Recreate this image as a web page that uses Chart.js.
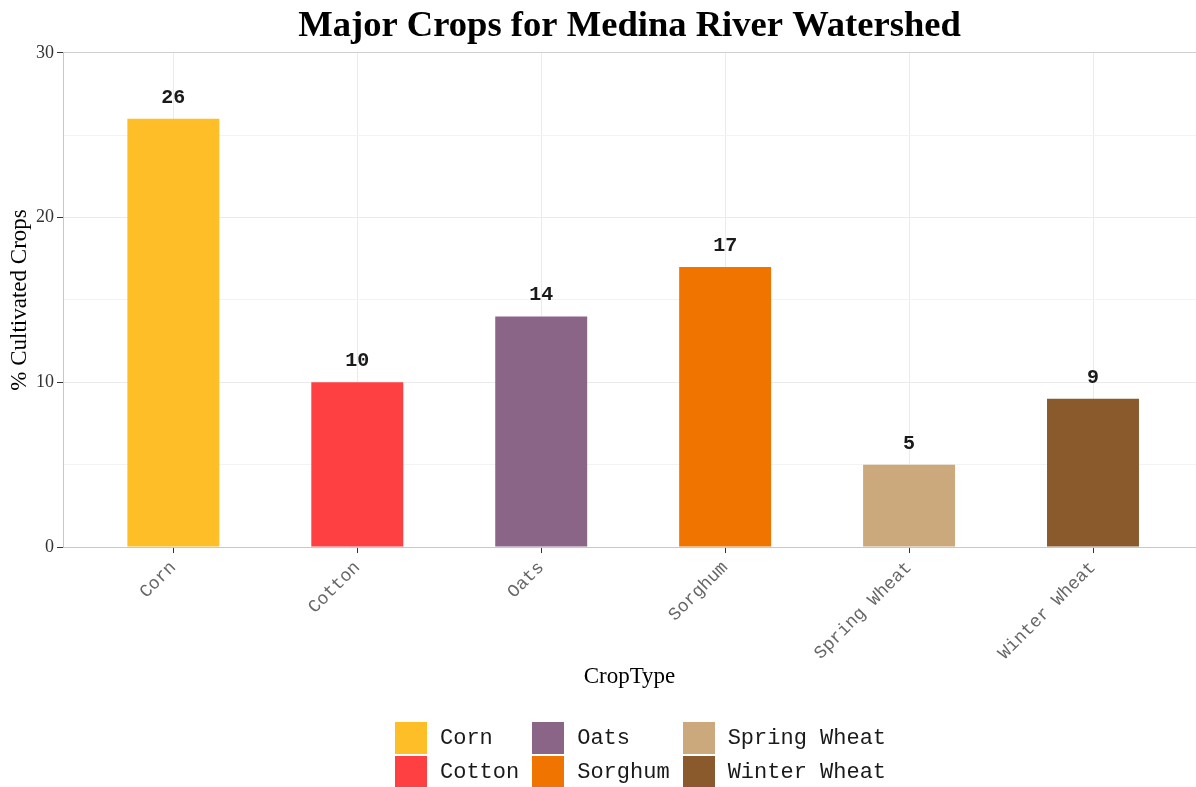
<!DOCTYPE html>
<html>
<head>
<meta charset="utf-8">
<script src="https://cdn.jsdelivr.net/npm/chart.js@4"></script>
<style>
  body { margin: 0; background: #fff; }
  #wrap { position: relative; width: 1196px; height: 787px; }
  #legend {
    position: absolute; left: 395px; top: 722px;
    display: grid; grid-template-rows: 32px 32px; grid-auto-flow: column;
    column-gap: 13px; row-gap: 2px;
    font: 22px "Liberation Mono", monospace; color: #1a1a1a;
  }
  .item { display: flex; align-items: center; }
  .swatch { width: 32px; height: 32px; margin-right: 13px; }
</style>
</head>
<body>
<div id="wrap">
  <canvas id="cropChart" width="1196" height="787"></canvas>
  <div id="legend"></div>
</div>
<script>
const cropTypes = ["Corn", "Cotton", "Oats", "Sorghum", "Spring Wheat", "Winter Wheat"];
const shares = [26, 10, 14, 17, 5, 9];
const cropColors = ["#FEBE27", "#FF4043", "#8A6587", "#EF7500", "#CCA97D", "#8A5A2C"];
const yTicks = [0, 10, 20, 30];

Chart.defaults.font.family = '"Liberation Serif", serif';
Chart.defaults.color = "#333";

// value printed above each bar
const valueLabels = {
  id: "valueLabels",
  afterDatasetsDraw(chart) {
    const ctx = chart.ctx;
    const meta = chart.getDatasetMeta(0);
    ctx.save();
    ctx.font = 'bold 20px "Liberation Mono", monospace';
    ctx.fillStyle = "#1a1a1a";
    ctx.textAlign = "center";
    ctx.textBaseline = "middle";
    meta.data.forEach((bar, i) => ctx.fillText(shares[i], bar.x, bar.y - 21));
    ctx.restore();
  }
};

new Chart(document.getElementById("cropChart").getContext("2d"), {
  type: "bar",
  data: {
    datasets: [{
      data: shares.map((v, i) => ({ x: i, y: v })),
      backgroundColor: cropColors,
      categoryPercentage: 1,
      barPercentage: 0.5
    }]
  },
  options: {
    responsive: false,
    devicePixelRatio: 1,
    animation: false,
    layout: { padding: { left: 0, right: 0, top: 0, bottom: 95 } },
    plugins: {
      legend: { display: false },
      tooltip: { enabled: false },
      title: {
        display: true,
        text: "Major Crops for Medina River Watershed",
        fullSize: false,
        color: "#000",
        font: { size: 36.6, weight: "bold" },
        padding: { top: 5, bottom: 4 }
      }
    },
    scales: {
      x: {
        type: "linear",
        offset: false,
        min: -0.6,
        max: 5.56,
        afterBuildTicks: s => { s.ticks = cropTypes.map((_, i) => ({ value: i })); },
        afterFit: s => { s.height = 145; },
        ticks: {
          callback: v => cropTypes[v],
          minRotation: 45,
          maxRotation: 45,
          padding: 4,
          color: "#666",
          font: { family: '"Liberation Mono", monospace', size: 18 }
        },
        grid: { offset: false, color: "#ebebeb", tickColor: "#333", tickLength: 6 },
        border: { color: "#c8c8c8" },
        title: {
          display: true,
          text: "CropType",
          color: "#000",
          font: { size: 23 },
          padding: { top: 0, bottom: 1 }
        }
      },
      y: {
        min: 0,
        max: 30,
        afterFit: s => { s.width = 63; },
        ticks: {
          stepSize: 5,
          callback: v => (yTicks.includes(v) ? v : ""),
          padding: 3,
          color: "#333",
          font: { size: 18 }
        },
        grid: {
          color: c => (c.tick.value === 30 ? "#cfcfcf" : c.tick.value % 10 ? "#f3f3f3" : "#ebebeb"),
          tickColor: c => (c.tick.value % 10 ? "rgba(0,0,0,0)" : "#333"),
          tickLength: 6
        },
        border: { color: "#c8c8c8" },
        title: {
          display: true,
          text: "% Cultivated Crops",
          color: "#000",
          font: { size: 23 },
          padding: { top: 6, bottom: 0 }
        }
      }
    }
  },
  plugins: [valueLabels]
});

// legend, filled column by column
const legend = document.getElementById("legend");
cropTypes.forEach((name, i) => {
  const item = document.createElement("div");
  item.className = "item";
  const swatch = document.createElement("span");
  swatch.className = "swatch";
  swatch.style.background = cropColors[i];
  item.appendChild(swatch);
  item.appendChild(document.createTextNode(name));
  legend.appendChild(item);
});
</script>
</body>
</html>
